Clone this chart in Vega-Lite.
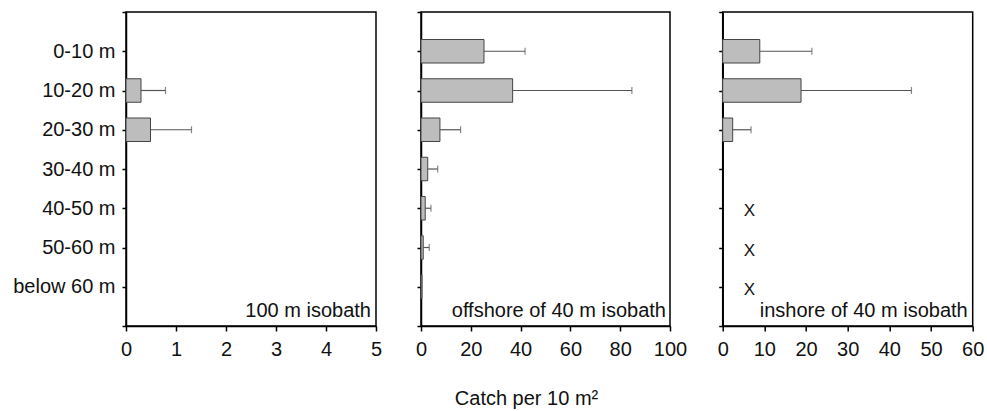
{
  "$schema": "https://vega.github.io/schema/vega-lite/v6.json",
  "padding": {"left": 11, "top": 1, "right": 0, "bottom": 0},
  "background": "white",
  "datasets": {
    "d": [
      {"panel": "p1", "depth": "10-20 m", "catch": 0.3, "upper": 0.79},
      {"panel": "p1", "depth": "20-30 m", "catch": 0.49, "upper": 1.31},
      {"panel": "p2", "depth": "0-10 m", "catch": 25.3, "upper": 41.8},
      {"panel": "p2", "depth": "10-20 m", "catch": 36.8, "upper": 84.7},
      {"panel": "p2", "depth": "20-30 m", "catch": 7.6, "upper": 15.9},
      {"panel": "p2", "depth": "30-40 m", "catch": 2.7, "upper": 6.7},
      {"panel": "p2", "depth": "40-50 m", "catch": 1.7, "upper": 4.0},
      {"panel": "p2", "depth": "50-60 m", "catch": 0.9, "upper": 3.3},
      {"panel": "p2", "depth": "below 60 m", "catch": 0.4, "upper": null},
      {"panel": "p3", "depth": "0-10 m", "catch": 8.9, "upper": 21.4},
      {"panel": "p3", "depth": "10-20 m", "catch": 18.8, "upper": 45.3},
      {"panel": "p3", "depth": "20-30 m", "catch": 2.4, "upper": 6.8},
      {"panel": "p3", "depth": "40-50 m", "catch": null, "upper": null, "note": "X"},
      {"panel": "p3", "depth": "50-60 m", "catch": null, "upper": null, "note": "X"},
      {"panel": "p3", "depth": "below 60 m", "catch": null, "upper": null, "note": "X"}
    ]
  },
  "config": {
    "font": "Liberation Sans",
    "view": {"stroke": "#000", "strokeWidth": 1.5},
    "axis": {
      "domainColor": "#000", "domainWidth": 1.5, "tickColor": "#000", "tickWidth": 1.5,
      "labelFontSize": 20, "labelColor": "#111", "labelFont": "Liberation Sans",
      "titleFont": "Liberation Sans", "titleFontSize": 20, "titleFontWeight": "normal", "titleColor": "#111",
      "grid": false, "labelFlush": false, "labelOverlap": false
    }
  },
  "bounds": "flush",
  "spacing": 45,
  "hconcat": [
    {
      "width": 250, "height": 314,
      "data": {"name": "d"},
      "transform": [{"filter": "datum.panel === 'p1'"}],
      "encoding": {
        "y": {"field": "depth", "type": "nominal",
          "scale": {"type": "point", "padding": 0, "domain": ["_t", "0-10 m", "10-20 m", "20-30 m", "30-40 m", "40-50 m", "50-60 m", "below 60 m", "_b"]},
          "axis": {"title": null, "tickSize": 4, "labelPadding": 7, "labelExpr": "indexof(datum.value, '_') === 0 ? '' : datum.label"}}
      },
      "layer": [
        {"mark": {"type": "bar", "height": 23.5, "fill": "#bdbdbd", "stroke": "#444", "strokeWidth": 1},
         "transform": [{"filter": "isValid(datum.catch)"}],
         "encoding": {"x": {"field": "catch", "type": "quantitative", "scale": {"domain": [0, 5], "nice": false},
           "axis": {"title": null, "values": [0, 1, 2, 3, 4, 5], "tickSize": 5, "labelPadding": 8}}}},
        {"mark": {"type": "rule", "color": "#555", "strokeWidth": 1.2},
         "transform": [{"filter": "isValid(datum.upper)"}],
         "encoding": {"x": {"field": "catch", "type": "quantitative"}, "x2": {"field": "upper"}}},
        {"mark": {"type": "tick", "orient": "vertical", "color": "#555", "thickness": 1.2, "size": 7},
         "transform": [{"filter": "isValid(datum.upper)"}],
         "encoding": {"x": {"field": "upper", "type": "quantitative"}}},
        {"data": {"values": [{"label": "100 m isobath"}]},
         "mark": {"type": "text", "align": "right", "baseline": "alphabetic", "dx": -5, "dy": -9, "fontSize": 20, "color": "#111"},
         "encoding": {"x": {"datum": 5, "type": "quantitative"}, "y": {"datum": "_b", "type": "nominal"}, "text": {"field": "label"}}}
      ]
    },
    {
      "bounds": "flush",
      "spacing": 52.7,
      "hconcat": [
        {
          "width": 249, "height": 314,
          "data": {"name": "d"},
          "transform": [{"filter": "datum.panel === 'p2'"}],
          "encoding": {
            "y": {"field": "depth", "type": "nominal",
              "scale": {"type": "point", "padding": 0, "domain": ["_t", "0-10 m", "10-20 m", "20-30 m", "30-40 m", "40-50 m", "50-60 m", "below 60 m", "_b"]},
              "axis": {"title": null, "tickSize": 4, "labels": false}}
          },
          "layer": [
            {"mark": {"type": "bar", "height": 23.5, "fill": "#bdbdbd", "stroke": "#444", "strokeWidth": 1},
             "transform": [{"filter": "isValid(datum.catch)"}],
             "encoding": {"x": {"field": "catch", "type": "quantitative", "scale": {"domain": [0, 100], "nice": false},
               "axis": {"title": "Catch per 10 m²", "titleX": 105, "titlePadding": 29, "values": [0, 20, 40, 60, 80, 100], "tickSize": 5, "labelPadding": 8}}}},
            {"mark": {"type": "rule", "color": "#555", "strokeWidth": 1.2},
             "transform": [{"filter": "isValid(datum.upper)"}],
             "encoding": {"x": {"field": "catch", "type": "quantitative"}, "x2": {"field": "upper"}}},
            {"mark": {"type": "tick", "orient": "vertical", "color": "#555", "thickness": 1.2, "size": 7},
             "transform": [{"filter": "isValid(datum.upper)"}],
             "encoding": {"x": {"field": "upper", "type": "quantitative"}}},
            {"data": {"values": [{"label": "offshore of 40 m isobath"}]},
             "mark": {"type": "text", "align": "right", "baseline": "alphabetic", "dx": -4, "dy": -9, "fontSize": 20, "color": "#111"},
             "encoding": {"x": {"datum": 100, "type": "quantitative"}, "y": {"datum": "_b", "type": "nominal"}, "text": {"field": "label"}}}
          ]
        },
        {
          "width": 250, "height": 314,
          "data": {"name": "d"},
          "transform": [{"filter": "datum.panel === 'p3'"}],
          "encoding": {
            "y": {"field": "depth", "type": "nominal",
              "scale": {"type": "point", "padding": 0, "domain": ["_t", "0-10 m", "10-20 m", "20-30 m", "30-40 m", "40-50 m", "50-60 m", "below 60 m", "_b"]},
              "axis": {"title": null, "tickSize": 4, "labels": false}}
          },
          "layer": [
            {"mark": {"type": "bar", "height": 23.5, "fill": "#bdbdbd", "stroke": "#444", "strokeWidth": 1},
             "transform": [{"filter": "isValid(datum.catch)"}],
             "encoding": {"x": {"field": "catch", "type": "quantitative", "scale": {"domain": [0, 60], "nice": false},
               "axis": {"title": null, "values": [0, 10, 20, 30, 40, 50, 60], "tickSize": 5, "labelPadding": 8}}}},
            {"mark": {"type": "rule", "color": "#555", "strokeWidth": 1.2},
             "transform": [{"filter": "isValid(datum.upper)"}],
             "encoding": {"x": {"field": "catch", "type": "quantitative"}, "x2": {"field": "upper"}}},
            {"mark": {"type": "tick", "orient": "vertical", "color": "#555", "thickness": 1.2, "size": 7},
             "transform": [{"filter": "isValid(datum.upper)"}],
             "encoding": {"x": {"field": "upper", "type": "quantitative"}}},
            {"mark": {"type": "text", "fontSize": 17, "baseline": "middle", "dy": 3, "color": "#111"},
             "transform": [{"filter": "isValid(datum.note)"}],
             "encoding": {"x": {"datum": 6.4, "type": "quantitative"}, "text": {"field": "note"}}},
            {"data": {"values": [{"label": "inshore of 40 m isobath"}]},
             "mark": {"type": "text", "align": "right", "baseline": "alphabetic", "dx": -5, "dy": -9, "fontSize": 20, "color": "#111"},
             "encoding": {"x": {"datum": 60, "type": "quantitative"}, "y": {"datum": "_b", "type": "nominal"}, "text": {"field": "label"}}}
          ]
        }
      ]
    }
  ]
}
